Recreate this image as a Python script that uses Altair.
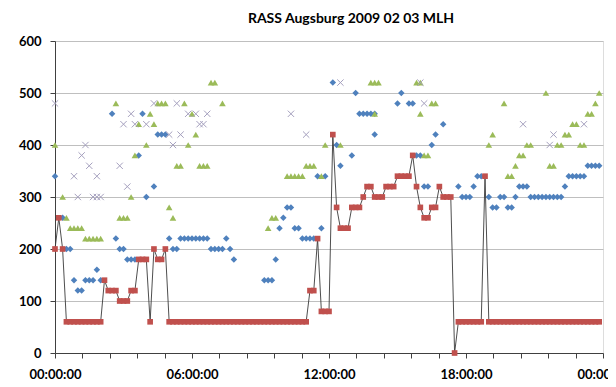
import altair as alt
import pandas as pd

chart_title = "RASS Augsburg 2009 02 03 MLH"
minutes_per_step = 10

# Red squares (MLH), one value per 10-minute step from 00:00 to 23:50
red_values = [
    200, 260, 200, 60, 60, 60, 60, 60, 60, 60, 60, 60,
    60, 140, 120, 120, 120, 100, 100, 100, 120, 120, 180, 180,
    180, 60, 200, 180, 180, 200, 60, 60, 60, 60, 60, 60,
    60, 60, 60, 60, 60, 60, 60, 60, 60, 60, 60, 60,
    60, 60, 60, 60, 60, 60, 60, 60, 60, 60, 60, 60,
    60, 60, 60, 60, 60, 60, 60, 120, 120, 220, 80, 80,
    80, 420, 280, 240, 240, 240, 280, 280, 280, 300, 320, 320,
    300, 300, 300, 320, 320, 320, 340, 340, 340, 340, 380, 320,
    280, 260, 260, 280, 280, 320, 300, 300, 300, 0, 60, 60,
    60, 60, 60, 60, 60, 340, 60, 60, 60, 60, 60, 60,
    60, 60, 60, 60, 60, 60, 60, 60, 60, 60, 60, 60,
    60, 60, 60, 60, 60, 60, 60, 60, 60, 60, 60, 60,
]
red_steps = list(range(len(red_values)))

# Blue diamonds
blue_steps = [0, 2, 3, 4, 5, 6, 7, 8, 9, 10, 11, 12,
              15, 16, 17, 18, 19, 20, 21, 22, 23, 24, 26, 27, 28, 29,
              30, 31, 32, 33, 34, 35, 36, 37, 38, 39, 40, 41, 42, 43, 44, 45, 46, 47,
              55, 56, 57, 58, 59, 60, 61, 62, 63, 64, 65, 66, 67, 68, 69, 70, 71,
              73, 74, 75, 78, 79, 80, 81, 82, 83, 84, 84,
              90, 91, 93, 94, 95, 96, 97, 98, 99, 100, 102,
              106, 107, 108, 109, 110, 111, 112, 114, 115, 116, 117, 118, 119, 120, 121,
              122, 123, 124, 125, 126, 127, 128, 129, 130, 131, 132, 133, 134,
              135, 136, 137, 138, 139, 140, 141, 142, 143]
blue_values = [340, 260, 200, 200, 140, 120, 120, 140, 140, 140, 160, 140,
               460, 220, 200, 200, 180, 180, 180, 380, 460, 300, 320, 420, 420, 420,
               220, 200, 200, 220, 220, 220, 220, 220, 220, 220, 220, 200, 200, 200, 200, 220, 200, 180,
               140, 140, 140, 180, 240, 260, 280, 280, 240, 240, 220, 220, 220, 220, 340, 240, 340,
               520, 400, 360, 380, 500, 460, 460, 460, 460, 460, 420,
               480, 500, 480, 480, 380, 380, 320, 320, 400, 420, 440,
               320, 300, 300, 300, 320, 340, 340, 300, 280, 280, 300, 300, 280, 280, 300,
               320, 320, 320, 300, 300, 300, 300, 300, 300, 300, 300, 300, 320,
               340, 340, 340, 340, 340, 360, 360, 360, 360]

# Green triangles
green_steps = [0, 2, 3, 4, 5, 6, 7, 8, 9, 10, 11, 12,
               16, 17, 18, 19, 20, 21, 22, 24, 25, 26, 27, 28, 29,
               30, 31, 32, 33, 34, 35, 36, 37, 38, 39, 40, 41, 42, 44,
               56, 57, 58, 61, 62, 63, 64, 65, 66, 67, 68, 70, 71, 75,
               83, 84, 85, 84, 95, 96, 96, 97, 98, 99, 100,
               114, 115, 118, 119, 120, 121, 122, 123, 124, 125, 129, 130, 131,
               132, 133, 134, 135, 136, 137, 138, 139, 140, 141, 142, 143]
green_values = [400, 300, 260, 240, 240, 240, 240, 220, 220, 220, 220, 220,
                480, 260, 260, 260, 300, 380, 440, 400, 460, 440, 480, 480, 480,
                280, 260, 360, 360, 480, 400, 460, 420, 360, 360, 360, 520, 520, 480,
                240, 260, 260, 340, 340, 340, 340, 340, 360, 360, 360, 340, 400, 400,
                520, 520, 520, 460, 520, 520, 460, 380, 380, 480, 480,
                400, 420, 480, 340, 340, 360, 380, 380, 400, 400, 500, 360, 360,
                400, 400, 420, 420, 440, 440, 400, 400, 460, 460, 480, 500]

# Grey crosses
cross_steps = [0, 5, 6, 7, 8, 9, 10, 11, 11, 12, 17, 18, 19, 20, 21, 24, 26,
               30, 31, 32, 33, 35, 37, 38, 39, 40, 62, 66, 75, 96, 97,
               123, 130, 131, 139]
cross_values = [480, 340, 300, 380, 400, 360, 300, 340, 300, 300, 360, 440, 320, 460, 440, 440, 480,
                420, 400, 480, 420, 460, 460, 440, 440, 460, 460, 420, 520, 520, 480,
                440, 400, 420, 440]

tick_hours = [0, 1.2, 2.4, 3.6, 4.8, 6, 7.2, 8.4, 9.6, 10.8, 12, 13.2, 14.4,
              15.6, 16.8, 18, 19.2, 20.4, 21.6, 22.8, 24]
y_ticks = [0, 100, 200, 300, 400, 500, 600]


def frame(steps, values):
    df = pd.DataFrame({"step": steps, "value": values})
    df["hours"] = df["step"] * minutes_per_step / 60.0
    return df


FONT = "Lato"
label_expr = ("abs(datum.value/6 - round(datum.value/6)) < 0.001 ? "
              "((datum.value % 24) < 10 ? '0' : '') + (datum.value % 24) + ':00:00' : ''")

x_enc = alt.X("hours:Q",
              scale=alt.Scale(domain=[0, 24], nice=False, zero=False),
              axis=alt.Axis(values=tick_hours, labelExpr=label_expr, title=None,
                            grid=False, tickSize=5, tickColor="#404040",
                            domainColor="#404040", labelFont=FONT,
                            labelFontWeight="bold", labelFontSize=13,
                            labelColor="#000000", labelPadding=10,
                            labelFlush=False, labelOverlap=False))
y_enc = alt.Y("value:Q",
              scale=alt.Scale(domain=[0, 600], nice=False),
              axis=alt.Axis(values=y_ticks, title=None, grid=True,
                            gridColor="#BFBFBF", gridWidth=1, tickSize=5,
                            tickColor="#404040", domainColor="#404040",
                            labelFont=FONT, labelFontWeight="bold",
                            labelFontSize=13, labelColor="#000000",
                            labelPadding=9))

blue = alt.Chart(frame(blue_steps, blue_values)).mark_point(
    shape="diamond", filled=True, size=42, color="#4F81BD", opacity=1
).encode(x=x_enc, y=y_enc)

red_df = frame(red_steps, red_values)
red_line = alt.Chart(red_df).mark_line(
    color="#3A3A3A", strokeWidth=0.9
).encode(x=x_enc, y=y_enc, order="step:Q")
red = alt.Chart(red_df).mark_point(
    shape="square", filled=True, size=32, color="#C0504D", opacity=1
).encode(x=x_enc, y=y_enc)

green = alt.Chart(frame(green_steps, green_values)).mark_point(
    shape="triangle-up", filled=True, size=44, color="#9BBB59", opacity=1
).encode(x=x_enc, y=y_enc)

cross = alt.Chart(frame(cross_steps, cross_values)).mark_point(
    shape="M-1,-1L1,1M-1,1L1,-1", filled=False, size=40, color="#A5A0BE",
    strokeWidth=1, opacity=1
).encode(x=x_enc, y=y_enc)

chart = alt.layer(blue, red_line, red, green, cross).properties(
    width=548, height=312,
    title=alt.Title(chart_title, font=FONT, fontSize=14, fontWeight="bold",
                    color="#000000", anchor="middle", dx=22, offset=9),
    padding={"left": 47, "top": 33, "right": 5, "bottom": 34},
    autosize=alt.AutoSizeParams(type="none"),
).configure_view(stroke="#404040", strokeWidth=1).configure(background="white")

chart.save("out.html", embed_options={"renderer": "svg", "actions": False})
